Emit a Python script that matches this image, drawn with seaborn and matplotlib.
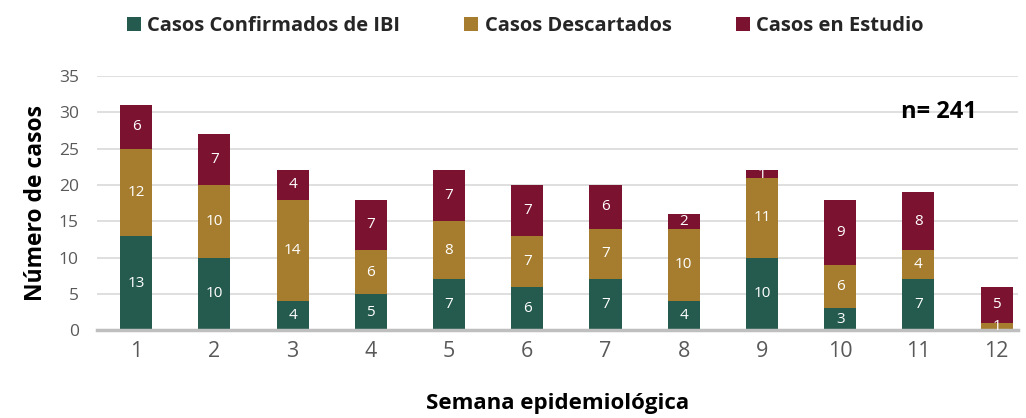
import numpy as np
import pandas as pd
import matplotlib
matplotlib.use("Agg")
import matplotlib.pyplot as plt
import seaborn as sns

semanas = [str(i) for i in range(1, 13)]
confirmados = [13, 10, 4, 5, 7, 6, 7, 4, 10, 3, 7, 0]
descartados = [12, 10, 14, 6, 8, 7, 7, 10, 11, 6, 4, 1]
en_estudio = [6, 7, 4, 7, 7, 7, 6, 2, 1, 9, 8, 5]

series = ["Casos Confirmados de IBI", "Casos Descartados", "Casos en Estudio"]
colores = ["#245B4E", "#A67D2E", "#7B1230"]

sns.set_theme(style="white")
plt.rcParams['font.family'] = ['Open Sans', 'DejaVu Sans']

df = pd.DataFrame({"Semana": semanas, series[0]: confirmados,
                   series[1]: descartados, series[2]: en_estudio})

fig = plt.figure(figsize=(10.26, 4.18), dpi=100)
ax = fig.add_axes([0.0945, 0.21, 0.8975, 0.608])

base = np.zeros(len(semanas))
for s, c in zip(series, colores):
    vals = df[s].values
    sns.barplot(x="Semana", y=s, data=df, color=c, width=0.41, bottom=base,
                ax=ax, label=s, edgecolor="none", saturation=1)
    for i, v in enumerate(vals):
        if v > 0:
            ax.text(i, base[i] + v / 2, str(v), ha="center", va="center",
                    color="white", fontsize=11)
    base = base + vals

ax.set_ylim(0, 35)
ax.set_xlim(-0.5, 11.27)
ax.set_yticks(range(0, 36, 5))
ax.yaxis.grid(True, color="#D9D9D9", linewidth=1.2)
ax.set_axisbelow(True)
for sp in ["top", "right", "left"]:
    ax.spines[sp].set_visible(False)
ax.spines["bottom"].set_color("#BFBFBF")
ax.spines["bottom"].set_linewidth(2.5)
ax.tick_params(axis="y", labelsize=12.5, colors="#595959", length=0, pad=13)
ax.tick_params(axis="x", labelsize=15.5, colors="#595959", length=0, pad=8)

ax.set_ylabel("Número de casos", fontsize=16.5, fontweight="bold", color="black", labelpad=8)
ax.set_xlabel("Semana epidemiológica", fontsize=16, fontweight="bold", color="black", labelpad=22)

ax.text(0.956, 0.86, "n= 241", transform=ax.transAxes, ha="right", va="center",
        fontsize=17, fontweight="bold", color="black")

leg = ax.legend(loc="lower center", bbox_to_anchor=(0.465, 1.085), ncol=3, frameon=False,
                fontsize=14.5, handlelength=0.7, handleheight=0.7, handletextpad=0.3,
                columnspacing=3.2)
for t in leg.get_texts():
    t.set_fontweight("bold")

fig.savefig("out.png", dpi=100)
